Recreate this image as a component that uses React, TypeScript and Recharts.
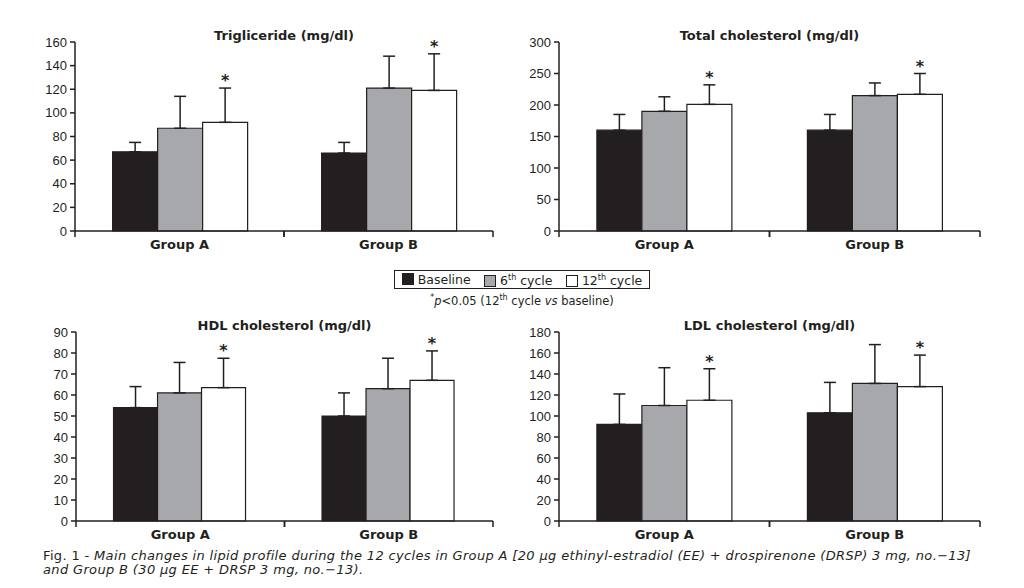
import React from 'react';
import { BarChart, Bar, XAxis, YAxis, ErrorBar, LabelList } from 'recharts';

const groups = ['Group A', 'Group B'];

// Trigliceride (mg/dl)
const trigBaseline = [67, 66];
const trigBaselineSd = [8, 9];
const trigSixth = [87, 121];
const trigSixthSd = [27, 27];
const trigTwelfth = [92, 119];
const trigTwelfthSd = [29, 31];
const trigTicks = [0, 20, 40, 60, 80, 100, 120, 140, 160];

// Total cholesterol (mg/dl)
const totBaseline = [160, 160];
const totBaselineSd = [25, 25];
const totSixth = [190, 215];
const totSixthSd = [23, 20];
const totTwelfth = [201, 217];
const totTwelfthSd = [31, 33];
const totTicks = [0, 50, 100, 150, 200, 250, 300];

// HDL cholesterol (mg/dl)
const hdlBaseline = [54, 50];
const hdlBaselineSd = [10, 11];
const hdlSixth = [61, 63];
const hdlSixthSd = [14.5, 14.5];
const hdlTwelfth = [63.5, 67];
const hdlTwelfthSd = [14, 14];
const hdlTicks = [0, 10, 20, 30, 40, 50, 60, 70, 80, 90];

// LDL cholesterol (mg/dl)
const ldlBaseline = [92, 103];
const ldlBaselineSd = [29, 29];
const ldlSixth = [110, 131];
const ldlSixthSd = [36, 37];
const ldlTwelfth = [115, 128];
const ldlTwelfthSd = [30, 30];
const ldlTicks = [0, 20, 40, 60, 80, 100, 120, 140, 160, 180];

const INK = '#231f20';
const GREY = '#a6a8ab';
const FONT = '"DejaVu Sans", sans-serif';
const TICK_FONT = '"Liberation Sans", Arial, sans-serif';

const buildRows = (b: number[], bSd: number[], s: number[], sSd: number[], t: number[], tSd: number[]) =>
  groups.map((g, i) => ({
    group: g,
    baseline: b[i],
    baselineErr: [0, bSd[i]],
    sixth: s[i],
    sixthErr: [0, sSd[i]],
    twelfth: t[i],
    twelfthErr: [0, tSd[i]],
  }));

// asterisk sits just above the 12th-cycle error cap
const Star = (props: any) => {
  const { x, y, width, height, value, index, sds } = props;
  const capY = y - (sds[index] / value) * height;
  return (
    <text x={x + width / 2} y={capY - 2} textAnchor="middle" fontSize={16} fontWeight="bold" fontFamily={FONT} fill={INK}>
      *
    </text>
  );
};

// category label plus tick marks at the band edges
const GroupTick = (props: any) => {
  const { x, y, payload, band } = props;
  return (
    <g>
      <line x1={x - band / 2} y1={y} x2={x - band / 2} y2={y + 6} stroke={INK} strokeWidth={1.5} />
      <line x1={x + band / 2} y1={y} x2={x + band / 2} y2={y + 6} stroke={INK} strokeWidth={1.5} />
      <text x={x} y={y + 18} textAnchor="middle" fontFamily={FONT} fontWeight="bold" fontSize={13} fill={INK}>
        {payload.value}
      </text>
    </g>
  );
};

interface PanelProps {
  title: string;
  left: number;
  top: number;
  width: number;
  margin: { top: number; right: number; bottom: number; left: number };
  yWidth: number;
  ticks: number[];
  rows: any[];
  starSds: number[];
}

const Panel = ({ title, left, top, width, margin, yWidth, ticks, rows, starSds }: PanelProps) => {
  const height = 260;
  const plotLeft = margin.left + yWidth;
  const plotWidth = width - plotLeft - margin.right;
  const band = plotWidth / groups.length;
  return (
    <div style={{ position: 'absolute', left, top, width, height }}>
      <div
        style={{
          position: 'absolute',
          left: plotLeft,
          width: plotWidth,
          top: margin.top - 13,
          textAlign: 'center',
          fontFamily: FONT,
          fontWeight: 'bold',
          fontSize: 13,
          lineHeight: '14px',
          color: INK,
        }}
      >
        {title}
      </div>
      <BarChart width={width} height={height} data={rows} margin={margin} barCategoryGap="18%" barGap={0}>
        <XAxis
          dataKey="group"
          axisLine={{ stroke: INK, strokeWidth: 1.5 }}
          tickLine={false}
          tickSize={0}
          tickMargin={0}
          height={24}
          interval={0}
          tick={(p: any) => <GroupTick {...p} band={band} />}
        />
        <YAxis
          width={yWidth}
          domain={[ticks[0], ticks[ticks.length - 1]]}
          ticks={ticks}
          interval={0}
          axisLine={{ stroke: INK, strokeWidth: 1.5 }}
          tickLine={{ stroke: INK, strokeWidth: 1.5 }}
          tickSize={5}
          tickMargin={3}
          tick={{ fontSize: 13, fill: INK, fontFamily: TICK_FONT }}
        />
        <Bar dataKey="baseline" fill={INK} stroke={INK} strokeWidth={1.2} isAnimationActive={false}>
          <ErrorBar dataKey="baselineErr" width={6} stroke={INK} strokeWidth={1.5} />
        </Bar>
        <Bar dataKey="sixth" fill={GREY} stroke={INK} strokeWidth={1.2} isAnimationActive={false}>
          <ErrorBar dataKey="sixthErr" width={6} stroke={INK} strokeWidth={1.5} />
        </Bar>
        <Bar dataKey="twelfth" fill="#ffffff" stroke={INK} strokeWidth={1.2} isAnimationActive={false}>
          <ErrorBar dataKey="twelfthErr" width={6} stroke={INK} strokeWidth={1.5} />
          <LabelList dataKey="twelfth" content={(p: any) => <Star {...p} sds={starSds} />} />
        </Bar>
      </BarChart>
    </div>
  );
};

const Swatch = ({ color }: { color: string }) => (
  <span
    style={{
      display: 'inline-block',
      width: 10,
      height: 10,
      background: color,
      border: `1px solid ${INK}`,
      marginRight: 4,
      verticalAlign: -1,
    }}
  />
);

export default function App() {
  return (
    <div style={{ position: 'fixed', left: 0, top: 0, width: 1024, height: 588, background: '#fff', overflow: 'hidden' }}>
      <Panel
        title="Trigliceride (mg/dl)"
        left={0}
        top={0}
        width={510}
        margin={{ top: 42, right: 17, bottom: 5, left: 25 }}
        yWidth={50}
        ticks={trigTicks}
        rows={buildRows(trigBaseline, trigBaselineSd, trigSixth, trigSixthSd, trigTwelfth, trigTwelfthSd)}
        starSds={trigTwelfthSd}
      />
      <Panel
        title="Total cholesterol (mg/dl)"
        left={510}
        top={0}
        width={514}
        margin={{ top: 42, right: 44, bottom: 5, left: 5 }}
        yWidth={44}
        ticks={totTicks}
        rows={buildRows(totBaseline, totBaselineSd, totSixth, totSixthSd, totTwelfth, totTwelfthSd)}
        starSds={totTwelfthSd}
      />
      <Panel
        title="HDL cholesterol (mg/dl)"
        left={0}
        top={290}
        width={510}
        margin={{ top: 42, right: 17, bottom: 5, left: 26 }}
        yWidth={50}
        ticks={hdlTicks}
        rows={buildRows(hdlBaseline, hdlBaselineSd, hdlSixth, hdlSixthSd, hdlTwelfth, hdlTwelfthSd)}
        starSds={hdlTwelfthSd}
      />
      <Panel
        title="LDL cholesterol (mg/dl)"
        left={510}
        top={290}
        width={514}
        margin={{ top: 42, right: 44, bottom: 5, left: 5 }}
        yWidth={44}
        ticks={ldlTicks}
        rows={buildRows(ldlBaseline, ldlBaselineSd, ldlSixth, ldlSixthSd, ldlTwelfth, ldlTwelfthSd)}
        starSds={ldlTwelfthSd}
      />

      <div
        style={{
          position: 'absolute',
          left: 394,
          top: 270,
          width: 254,
          height: 17,
          border: `1.2px solid ${INK}`,
          fontFamily: FONT,
          fontSize: 12.5,
          lineHeight: '17px',
          color: INK,
          display: 'flex',
          justifyContent: 'space-around',
          alignItems: 'center',
          whiteSpace: 'nowrap',
        }}
      >
        <span>
          <Swatch color={INK} />
          Baseline
        </span>
        <span>
          <Swatch color={GREY} />6<sup style={{ fontSize: 8 }}>th</sup> cycle
        </span>
        <span>
          <Swatch color="#fff" />
          12<sup style={{ fontSize: 8 }}>th</sup> cycle
        </span>
      </div>
      <div
        style={{
          position: 'absolute',
          left: 394,
          width: 256,
          top: 291,
          textAlign: 'center',
          fontFamily: FONT,
          fontSize: 11.5,
          lineHeight: '14px',
          color: INK,
          whiteSpace: 'nowrap',
        }}
      >
        <sup style={{ fontSize: 8 }}>*</sup>
        <i>p</i>&lt;0.05 (12<sup style={{ fontSize: 8 }}>th</sup> cycle <i>vs</i> baseline)
      </div>

      <div
        style={{
          position: 'absolute',
          left: 43,
          top: 549,
          fontFamily: FONT,
          fontSize: 13,
          letterSpacing: 0.35,
          lineHeight: '14px',
          color: INK,
          whiteSpace: 'nowrap',
        }}
      >
        <div>
          Fig. 1 - <i>Main changes in lipid profile during the 12 cycles in Group A [20 μg ethinyl-estradiol (EE) + drospirenone (DRSP) 3 mg, no.−13]</i>
        </div>
        <div>
          <i>and Group B (30 μg EE + DRSP 3 mg, no.−13).</i>
        </div>
      </div>
    </div>
  );
}
